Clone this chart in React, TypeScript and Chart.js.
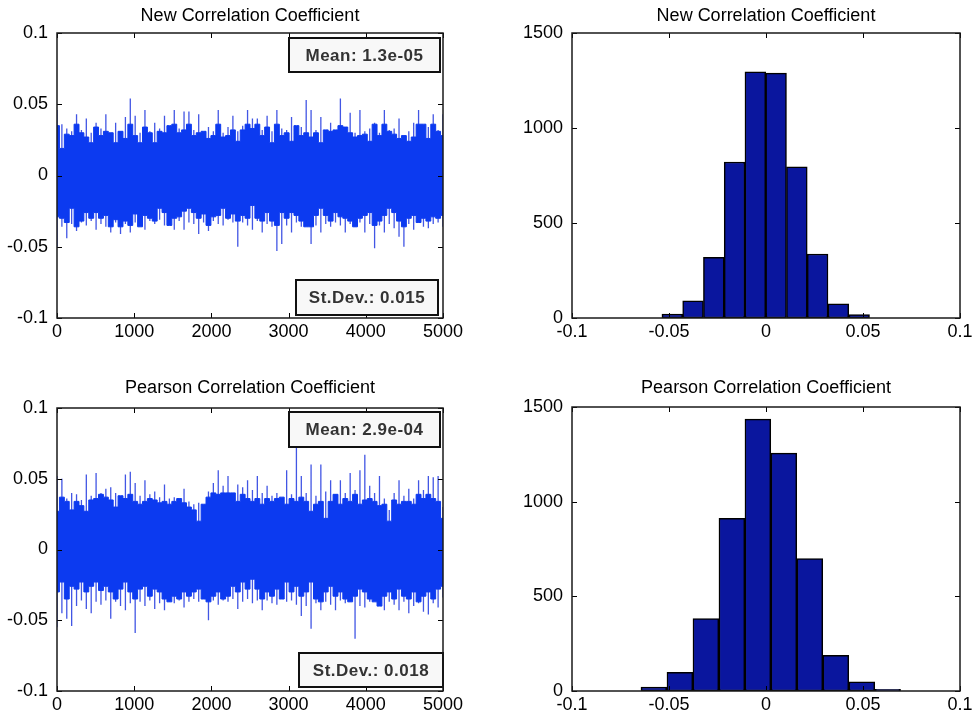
import React, { useEffect, useRef } from "react";
import { Chart, registerables } from "chart.js";

Chart.register(...registerables);

const FONT = "'Liberation Sans', Arial, Helvetica, sans-serif";
const BLUE = "rgb(12,58,240)";
const SPIKE = "rgb(66,86,228)";
const NAVY = "rgb(10,22,158)";

// ---------- data ----------
const SAMPLE_MAX = 5000;
const tsXTicks = [0, 1000, 2000, 3000, 4000, 5000];
const tsXLabels = ["0", "1000", "2000", "3000", "4000", "5000"];
const tsYTicks = [-0.1, -0.05, 0, 0.05, 0.1];
const tsYLabels = ["-0.1", "-0.05", "0", "0.05", "0.1"];
const histXTicks = [-0.1, -0.05, 0, 0.05, 0.1];
const histXLabels = ["-0.1", "-0.05", "0", "0.05", "0.1"];
const histYTicks = [0, 500, 1000, 1500];
const histYLabels = ["0", "500", "1000", "1500"];

// New correlation coefficient: dense band edges (80 samples across 0..5000)
const newCoreHi = [
  0.035, 0.019, 0.029, 0.028, 0.036, 0.030, 0.027, 0.023, 0.034, 0.028,
  0.031, 0.030, 0.023, 0.031, 0.026, 0.036, 0.028, 0.023, 0.034, 0.030,
  0.023, 0.031, 0.030, 0.035, 0.036, 0.030, 0.032, 0.036, 0.028, 0.030,
  0.031, 0.026, 0.028, 0.036, 0.027, 0.028, 0.032, 0.024, 0.032, 0.036,
  0.033, 0.036, 0.028, 0.034, 0.023, 0.036, 0.028, 0.030, 0.024, 0.035,
  0.028, 0.030, 0.027, 0.030, 0.023, 0.032, 0.031, 0.032, 0.035, 0.034,
  0.030, 0.027, 0.028, 0.029, 0.024, 0.036, 0.028, 0.036, 0.031, 0.029,
  0.026, 0.028, 0.024, 0.027, 0.036, 0.036, 0.026, 0.036, 0.031, 0.028];
const newCoreLo = [
  -0.029, -0.030, -0.033, -0.023, -0.036, -0.032, -0.026, -0.030, -0.026, -0.030,
  -0.028, -0.036, -0.031, -0.036, -0.032, -0.035, -0.027, -0.036, -0.028, -0.030,
  -0.032, -0.023, -0.026, -0.035, -0.030, -0.029, -0.025, -0.023, -0.026, -0.030,
  -0.027, -0.035, -0.029, -0.028, -0.023, -0.030, -0.027, -0.032, -0.028, -0.030,
  -0.021, -0.030, -0.032, -0.026, -0.032, -0.035, -0.026, -0.030, -0.026, -0.028,
  -0.032, -0.036, -0.036, -0.028, -0.023, -0.028, -0.032, -0.026, -0.029, -0.030,
  -0.032, -0.036, -0.030, -0.028, -0.026, -0.035, -0.032, -0.028, -0.023, -0.026,
  -0.032, -0.036, -0.030, -0.028, -0.033, -0.030, -0.032, -0.029, -0.030, -0.028];
// New correlation coefficient: spike extremes (80 samples across 0..5000)
const newSpikeHi = [
  0.046, 0.036, 0.033, 0.031, 0.043, 0.032, 0.040, 0.030, 0.037, 0.033,
  0.043, 0.030, 0.037, 0.031, 0.041, 0.054, 0.042, 0.030, 0.046, 0.031,
  0.037, 0.033, 0.042, 0.031, 0.046, 0.033, 0.045, 0.045, 0.032, 0.043,
  0.030, 0.034, 0.031, 0.046, 0.030, 0.034, 0.042, 0.031, 0.035, 0.046,
  0.040, 0.040, 0.032, 0.042, 0.031, 0.046, 0.033, 0.032, 0.041, 0.031,
  0.034, 0.053, 0.046, 0.032, 0.041, 0.030, 0.037, 0.031, 0.054, 0.032,
  0.044, 0.030, 0.046, 0.031, 0.033, 0.037, 0.030, 0.046, 0.032, 0.033,
  0.040, 0.028, 0.031, 0.037, 0.046, 0.031, 0.034, 0.043, 0.032, 0.043];
const newSpikeLo = [
  -0.050, -0.036, -0.044, -0.034, -0.039, -0.033, -0.035, -0.032, -0.038, -0.034,
  -0.036, -0.040, -0.033, -0.041, -0.034, -0.040, -0.033, -0.035, -0.038, -0.032,
  -0.034, -0.031, -0.035, -0.033, -0.038, -0.032, -0.038, -0.033, -0.034, -0.041,
  -0.033, -0.039, -0.032, -0.034, -0.035, -0.031, -0.033, -0.050, -0.033, -0.035,
  -0.038, -0.032, -0.040, -0.034, -0.036, -0.053, -0.048, -0.035, -0.040, -0.033,
  -0.036, -0.034, -0.048, -0.035, -0.040, -0.034, -0.036, -0.033, -0.035, -0.040,
  -0.034, -0.036, -0.033, -0.040, -0.034, -0.051, -0.035, -0.040, -0.034, -0.037,
  -0.043, -0.050, -0.034, -0.038, -0.033, -0.036, -0.037, -0.034, -0.033, -0.036];

// Pearson correlation coefficient
const pearsonCoreHi = [
  0.027, 0.037, 0.034, 0.028, 0.034, 0.031, 0.027, 0.035, 0.036, 0.039,
  0.037, 0.035, 0.030, 0.038, 0.036, 0.039, 0.034, 0.032, 0.034, 0.036,
  0.035, 0.033, 0.034, 0.032, 0.034, 0.036, 0.033, 0.030, 0.028, 0.020,
  0.032, 0.037, 0.040, 0.039, 0.040, 0.040, 0.040, 0.034, 0.039, 0.036,
  0.034, 0.036, 0.032, 0.036, 0.034, 0.036, 0.037, 0.032, 0.036, 0.034,
  0.037, 0.034, 0.027, 0.032, 0.034, 0.022, 0.034, 0.039, 0.032, 0.036,
  0.034, 0.039, 0.032, 0.035, 0.036, 0.034, 0.031, 0.032, 0.020, 0.035,
  0.032, 0.034, 0.034, 0.032, 0.039, 0.036, 0.039, 0.036, 0.034, 0.022];
const pearsonCoreLo = [
  -0.030, -0.023, -0.035, -0.026, -0.028, -0.023, -0.030, -0.026, -0.023, -0.029,
  -0.026, -0.030, -0.035, -0.028, -0.023, -0.030, -0.035, -0.028, -0.026, -0.033,
  -0.028, -0.030, -0.035, -0.037, -0.033, -0.035, -0.030, -0.033, -0.030, -0.028,
  -0.035, -0.037, -0.033, -0.030, -0.035, -0.033, -0.026, -0.030, -0.023, -0.028,
  -0.021, -0.028, -0.035, -0.030, -0.033, -0.028, -0.035, -0.023, -0.030, -0.026,
  -0.033, -0.030, -0.023, -0.035, -0.037, -0.030, -0.026, -0.033, -0.030, -0.035,
  -0.037, -0.033, -0.028, -0.030, -0.035, -0.037, -0.040, -0.033, -0.030, -0.035,
  -0.028, -0.033, -0.035, -0.030, -0.037, -0.033, -0.030, -0.035, -0.028, -0.026];
const pearsonSpikeHi = [
  0.052, 0.050, 0.036, 0.040, 0.039, 0.035, 0.053, 0.038, 0.054, 0.040,
  0.043, 0.044, 0.040, 0.036, 0.053, 0.055, 0.047, 0.038, 0.049, 0.039,
  0.041, 0.037, 0.046, 0.036, 0.037, 0.035, 0.043, 0.034, 0.032, 0.033,
  0.030, 0.041, 0.047, 0.056, 0.045, 0.052, 0.040, 0.046, 0.044, 0.049,
  0.042, 0.052, 0.040, 0.045, 0.038, 0.040, 0.036, 0.056, 0.039, 0.073,
  0.052, 0.040, 0.060, 0.038, 0.060, 0.041, 0.049, 0.039, 0.049, 0.040,
  0.054, 0.042, 0.056, 0.067, 0.045, 0.040, 0.052, 0.036, 0.028, 0.040,
  0.049, 0.038, 0.043, 0.036, 0.049, 0.042, 0.052, 0.051, 0.052, 0.030];
const pearsonSpikeLo = [
  -0.055, -0.045, -0.049, -0.054, -0.040, -0.036, -0.042, -0.045, -0.037, -0.039,
  -0.036, -0.049, -0.037, -0.040, -0.043, -0.038, -0.059, -0.037, -0.040, -0.036,
  -0.042, -0.038, -0.043, -0.037, -0.038, -0.036, -0.041, -0.037, -0.035, -0.037,
  -0.035, -0.050, -0.036, -0.039, -0.036, -0.037, -0.035, -0.042, -0.037, -0.035,
  -0.038, -0.036, -0.043, -0.036, -0.038, -0.039, -0.035, -0.037, -0.036, -0.039,
  -0.047, -0.040, -0.056, -0.038, -0.043, -0.037, -0.039, -0.043, -0.036, -0.038,
  -0.037, -0.063, -0.040, -0.041, -0.037, -0.036, -0.039, -0.043, -0.037, -0.039,
  -0.043, -0.037, -0.045, -0.040, -0.038, -0.044, -0.046, -0.038, -0.041, -0.034];

// Histograms (bin centres and counts)
const newHistCenters = [-0.0483, -0.0376, -0.0269, -0.0162, -0.0055, 0.0052, 0.0159, 0.0266, 0.0373, 0.0480];
const newHistCounts = [21, 91, 319, 821, 1295, 1289, 795, 337, 74, 18];
const pearsonHistCenters = [-0.0578, -0.0444, -0.0310, -0.0176, -0.0042, 0.0092, 0.0226, 0.0360, 0.0494, 0.0627];
const pearsonHistCounts = [21, 99, 383, 912, 1436, 1256, 700, 189, 48, 9];

const newTitle = "New Correlation Coefficient";
const pearsonTitle = "Pearson Correlation Coefficient";
const newMean = "Mean: 1.3e-05";
const newStd = "St.Dev.: 0.015";
const pearsonMean = "Mean: 2.9e-04";
const pearsonStd = "St.Dev.: 0.018";

// ---------- helpers ----------
type Box = { text: string; right: number; top?: number; bottom?: number; w: number; h: number };

function framePlugin(boxes: Box[]) {
  return {
    id: "panelFrame",
    afterDatasetsDraw(chart: any) {
      const { ctx, chartArea: a } = chart;
      const xs = chart.scales.x;
      const ys = chart.scales.y;
      ctx.save();
      ctx.strokeStyle = "#000";
      ctx.lineWidth = 1;
      const tl = 5;
      xs.ticks.forEach((t: any) => {
        const p = Math.round(xs.getPixelForValue(t.value)) + 0.5;
        ctx.beginPath();
        ctx.moveTo(p, a.bottom);
        ctx.lineTo(p, a.bottom - tl);
        ctx.moveTo(p, a.top);
        ctx.lineTo(p, a.top + tl);
        ctx.stroke();
      });
      ys.ticks.forEach((t: any) => {
        const p = Math.round(ys.getPixelForValue(t.value)) + 0.5;
        ctx.beginPath();
        ctx.moveTo(a.left, p);
        ctx.lineTo(a.left + tl, p);
        ctx.moveTo(a.right, p);
        ctx.lineTo(a.right - tl, p);
        ctx.stroke();
      });
      boxes.forEach((b) => {
        const x = a.right - b.right - b.w;
        const y = b.top !== undefined ? a.top + b.top : a.bottom - (b.bottom || 0) - b.h;
        ctx.fillStyle = "#f8f8f8";
        ctx.fillRect(x, y, b.w, b.h);
        ctx.lineWidth = 2;
        ctx.strokeStyle = "#111";
        ctx.strokeRect(x, y, b.w, b.h);
        ctx.fillStyle = "#333";
        ctx.font = `bold 17px ${FONT}`;
        try { (ctx as any).letterSpacing = "0.5px"; } catch (e) {}
        ctx.textAlign = "center";
        ctx.textBaseline = "middle";
        ctx.fillText(b.text, x + b.w / 2, y + b.h / 2 + 1);
        try { (ctx as any).letterSpacing = "0px"; } catch (e) {}
      });
      ctx.lineWidth = 1.5;
      ctx.strokeStyle = "#1a1a1a";
      ctx.strokeRect(a.left, a.top, a.width, a.height);
      ctx.restore();
    },
  };
}

function fixedTicks(values: number[]) {
  return (scale: any) => {
    scale.ticks = values.map((v) => ({ value: v }));
  };
}

type Geom = { yW: number; padR: number; tTop: number; tBottom: number; xH: number };

function baseOptions(title: string, g: Geom, xCfg: any, yCfg: any) {
  const tickFont = { family: FONT, size: 18 };
  return {
    animation: false,
    responsive: true,
    maintainAspectRatio: false,
    layout: { padding: { left: 0, right: g.padR, top: 0, bottom: 0 } },
    plugins: {
      legend: { display: false },
      tooltip: { enabled: false },
      title: {
        display: true,
        fullSize: false,
        text: title,
        color: "#000",
        font: { family: FONT, size: 18, weight: "normal" },
        padding: { top: g.tTop, bottom: g.tBottom },
      },
    },
    scales: {
      x: {
        type: "linear",
        min: xCfg.min,
        max: xCfg.max,
        offset: false,
        afterBuildTicks: fixedTicks(xCfg.ticks),
        afterFit: (s: any) => {
          s.height = g.xH;
          s.paddingLeft = 0;
          s.paddingRight = 0;
        },
        grid: { display: false, drawTicks: false },
        border: { display: false },
        ticks: {
          font: tickFont,
          color: "#000",
          padding: 3,
          maxRotation: 0,
          autoSkip: false,
          callback: (_v: any, i: number) => xCfg.labels[i],
        },
      },
      y: {
        type: "linear",
        min: yCfg.min,
        max: yCfg.max,
        afterBuildTicks: fixedTicks(yCfg.ticks),
        afterFit: (s: any) => {
          s.width = g.yW;
        },
        grid: { display: false, drawTicks: false },
        border: { display: false },
        ticks: {
          font: tickFont,
          color: "#000",
          padding: 9,
          autoSkip: false,
          callback: (_v: any, i: number) => yCfg.labels[i],
        },
      },
    },
  };
}

function seriesConfig(title: string, coreHi: number[], coreLo: number[], spikeHi: number[], spikeLo: number[], boxes: Box[], g: Geom) {
  const corePts = (arr: number[]) => arr.map((v, i) => ({ x: (i * SAMPLE_MAX) / (arr.length - 1), y: v }));
  const spikes: any[] = [];
  spikeHi.forEach((hi, k) => {
    const x = (k * SAMPLE_MAX) / (spikeHi.length - 1);
    spikes.push({ x, y: spikeLo[k] }, { x, y: hi }, { x, y: null });
  });
  return {
    type: "line",
    data: {
      datasets: [
        { data: corePts(coreHi), borderColor: BLUE, borderWidth: 1, pointRadius: 0, backgroundColor: BLUE, fill: "+1", stepped: "middle" },
        { data: corePts(coreLo), borderColor: BLUE, borderWidth: 1, pointRadius: 0, fill: false, stepped: "middle" },
        { data: spikes, borderColor: SPIKE, borderWidth: 1.3, pointRadius: 0, fill: false, spanGaps: false },
      ],
    },
    options: baseOptions(
      title,
      g,
      { min: 0, max: SAMPLE_MAX, ticks: tsXTicks, labels: tsXLabels },
      { min: -0.1, max: 0.1, ticks: tsYTicks, labels: tsYLabels }
    ),
    plugins: [framePlugin(boxes)],
  };
}

function histConfig(title: string, centers: number[], counts: number[], g: Geom) {
  return {
    type: "bar",
    data: {
      datasets: [
        {
          data: centers.map((c, i) => ({ x: c, y: counts[i] })),
          backgroundColor: NAVY,
          borderColor: "#000",
          borderWidth: 1.5,
          borderSkipped: false,
          barPercentage: 1,
          categoryPercentage: 1,
        },
      ],
    },
    options: baseOptions(
      title,
      g,
      { min: -0.1, max: 0.1, ticks: histXTicks, labels: histXLabels },
      { min: 0, max: 1500, ticks: histYTicks, labels: histYLabels }
    ),
    plugins: [framePlugin([])],
  };
}

function Panel(props: { left: number; top: number; width: number; height: number; make: () => any }) {
  const ref = useRef<HTMLCanvasElement | null>(null);
  useEffect(() => {
    const chart = new Chart(ref.current as HTMLCanvasElement, props.make());
    return () => chart.destroy();
  }, []);
  return (
    <div style={{ position: "absolute", left: props.left, top: props.top, width: props.width, height: props.height }}>
      <canvas ref={ref} />
    </div>
  );
}

export default function App() {
  return (
    <div style={{ position: "absolute", left: 0, top: 0, width: 973, height: 715, background: "#fff", overflow: "hidden" }}>
      <Panel
        left={0}
        top={0}
        width={490}
        height={345}
        make={() =>
          seriesConfig(newTitle, newCoreHi, newCoreLo, newSpikeHi, newSpikeLo, [
            { text: newMean, right: 3, top: 5, w: 151, h: 34 },
            { text: newStd, right: 5, bottom: 3, w: 142, h: 35 },
          ], { yW: 57, padR: 47, tTop: 5, tBottom: 6.4, xH: 27 })
        }
      />
      <Panel
        left={490}
        top={0}
        width={483}
        height={345}
        make={() => histConfig(newTitle, newHistCenters, newHistCounts, { yW: 82, padR: 13, tTop: 5, tBottom: 6.4, xH: 27 })}
      />
      <Panel
        left={0}
        top={370}
        width={490}
        height={345}
        make={() =>
          seriesConfig(pearsonTitle, pearsonCoreHi, pearsonCoreLo, pearsonSpikeHi, pearsonSpikeLo, [
            { text: pearsonMean, right: 3, top: 4, w: 151, h: 35 },
            { text: pearsonStd, right: 0, bottom: 4, w: 144, h: 34 },
          ], { yW: 57, padR: 47, tTop: 7, tBottom: 9.4, xH: 24 })
        }
      />
      <Panel
        left={490}
        top={370}
        width={483}
        height={345}
        make={() => histConfig(pearsonTitle, pearsonHistCenters, pearsonHistCounts, { yW: 82, padR: 13, tTop: 7, tBottom: 8.4, xH: 24 })}
      />
    </div>
  );
}
